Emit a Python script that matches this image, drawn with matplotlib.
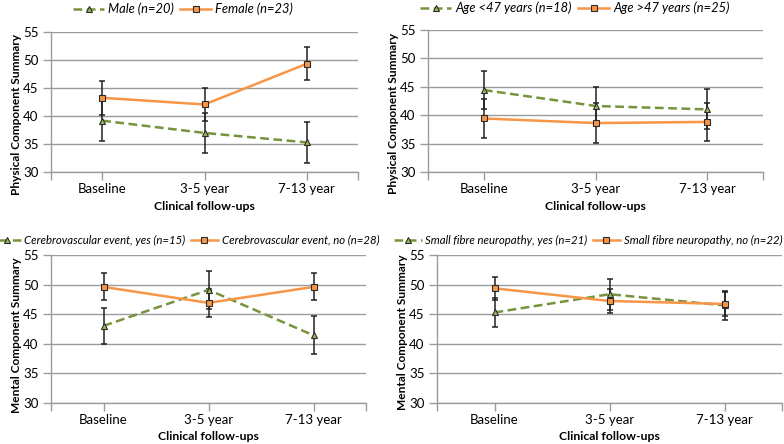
import matplotlib.pyplot as plt
import numpy as np

plt.rcParams['font.family'] = ['Lato', 'DejaVu Sans']

categories = ['Baseline', '3-5 year', '7-13 year']

male = [39.2, 37.0, 35.3]
male_err = [3.7, 3.6, 3.7]
female = [43.3, 42.1, 49.4]
female_err = [3.0, 3.0, 3.0]

age_young = [44.4, 41.6, 41.0]
age_young_err = [3.4, 3.4, 3.5]
age_old = [39.4, 38.6, 38.8]
age_old_err = [3.5, 3.45, 3.4]

cve_yes = [43.0, 49.1, 41.4]
cve_yes_err = [3.1, 3.2, 3.2]
cve_no = [49.6, 46.9, 49.6]
cve_no_err = [2.3, 2.4, 2.3]

sfn_yes = [45.3, 48.4, 46.5]
sfn_yes_err = [2.5, 2.6, 2.5]
sfn_no = [49.4, 47.25, 46.75]
sfn_no_err = [2.0, 2.0, 2.1]

panels = [
    # box in px (left, right, top, bottom), green series, orange series, labels, ylabel,
    # ylabel y (axes frac), legend anchor (px), loc and font size
    ((51, 358, 32.5, 172), (male, male_err), (female, female_err),
     ('Male (n=20)', 'Female (n=23)'), 'Physical Component Summary', 0.41,
     (183, 9), 'center', 9.3),
    ((428, 763, 29.7, 172), (age_young, age_young_err), (age_old, age_old_err),
     ('Age <47 years (n=18)', 'Age >47 years (n=25)'), 'Physical Component Summary', 0.41,
     (575, 8), 'center', 9.3),
    ((51, 366, 255, 402.7), (cve_yes, cve_yes_err), (cve_no, cve_no_err),
     ('Cerebrovascular event, yes (n=15)', 'Cerebrovascular event, no (n=28)'),
     'Mental Component Summary', 0.46, (379, 240), 'center right', 8.2),
    ((437, 782, 255.3, 402.7), (sfn_yes, sfn_yes_err), (sfn_no, sfn_no_err),
     ('Small fibre neuropathy, yes (n=21)', 'Small fibre neuropathy, no (n=22)'),
     'Mental Component Summary', 0.48, (782, 240), 'center right', 8.2),
]

W, H = 784, 444
fig = plt.figure(figsize=(W / 100, H / 100), dpi=100)

green_line = '#77933C'
green_fill = '#9BBB59'
orange = '#F79646'
grid_col = '#9C9C9C'

x = np.arange(len(categories))

for (l, r, t, b), (g, ge), (o, oe), labels, ylab, ly_frac, (lx, ly), loc, lsize in panels:
    ax = fig.add_axes([l / W, (H - b) / H, (r - l) / W, (b - t) / H])
    ax.errorbar(x, g, yerr=ge, fmt='none', ecolor='#222222', elinewidth=1.1,
                capsize=2.4, capthick=1.1, zorder=3)
    ax.errorbar(x, o, yerr=oe, fmt='none', ecolor='#222222', elinewidth=1.1,
                capsize=2.4, capthick=1.1, zorder=3)
    ax.plot(x, g, color=green_line, lw=1.8, ls=(0, (3.5, 1.8)), marker='^', ms=5,
            mfc=green_fill, mec='#2b2b2b', mew=0.8, label=labels[0], zorder=4)
    ax.plot(x, o, color=orange, lw=1.8, marker='s', ms=5,
            mfc=orange, mec='#2b2b2b', mew=0.8, label=labels[1], zorder=4)

    ax.set_xlim(-0.5, 2.5)
    ax.set_ylim(30, 55)
    ax.set_yticks([30, 35, 40, 45, 50, 55])
    ax.set_xticks(x)
    ax.set_xticklabels(categories)
    ax.set_xticks([-0.5, 2.5], minor=True)
    ax.yaxis.grid(True, color=grid_col, lw=1)
    ax.set_axisbelow(True)
    for s in ['top', 'right']:
        ax.spines[s].set_visible(False)
    for s in ['left', 'bottom']:
        ax.spines[s].set_color(grid_col)
        ax.spines[s].set_linewidth(1)
    ax.tick_params(axis='both', which='both', color=grid_col, length=6, width=1,
                   labelsize=9.5, labelcolor='black')
    ax.tick_params(axis='x', pad=2)
    ax.tick_params(axis='y', pad=3)

    ax.set_ylabel(ylab, fontsize=8.6, fontweight='bold')
    ax.yaxis.set_label_coords(-29 / (r - l), ly_frac)
    ax.set_xlabel('Clinical follow-ups', fontsize=8.8, fontweight='bold', labelpad=4)

    ax.legend(loc=loc, bbox_to_anchor=(lx / W, (H - ly) / H),
              bbox_transform=fig.transFigure, ncol=2, frameon=False,
              borderpad=0, borderaxespad=0,
              handlelength=2.4, columnspacing=0.5, handletextpad=0.3,
              prop={'style': 'italic', 'size': lsize})

fig.savefig('out.png', dpi=100)
